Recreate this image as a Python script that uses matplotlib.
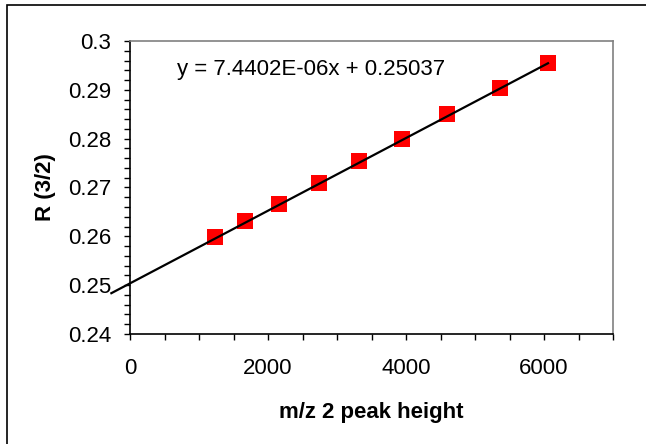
import numpy as np
import matplotlib
matplotlib.use("Agg")
import matplotlib.pyplot as plt
from matplotlib.patches import Rectangle
from matplotlib.ticker import MultipleLocator

plt.rcParams['font.family'] = ['Liberation Sans', 'DejaVu Sans']

# m/z 2 peak height vs ratio R(3/2)
peak_height = [1232, 1667, 2159, 2739, 3319, 3942, 4594, 5362, 6058]
ratio = [0.2599, 0.2631, 0.2666, 0.2709, 0.2754, 0.2799, 0.2851, 0.2904, 0.2955]

# linear trendline as reported on the chart
slope = 7.4402e-06
intercept = 0.25037
trend_start = -270  # trendline forecast backward past the axis

fig = plt.figure(figsize=(6.46, 4.44), dpi=100)

# outer chart frame (right/bottom fall outside the image)
fig.patches.append(Rectangle((7 / 646, -0.1), 1.2, (444 - 5) / 444 + 0.1,
                             transform=fig.transFigure, fill=False,
                             edgecolor='black', linewidth=1.2))

ax = fig.add_axes([130 / 646, (444 - 334) / 444, 483 / 646, 293 / 444])

ax.scatter(peak_height, ratio, marker='s', s=11.5 ** 2, color='#ff0000',
           linewidths=0, zorder=2)

xfit = np.array([trend_start, max(peak_height)])
ax.plot(xfit, slope * xfit + intercept, color='black', linewidth=1.6,
        clip_on=False, zorder=3)

ax.text(681, 0.2941, 'y = 7.4402E-06x + 0.25037', fontsize=16,
        ha='left', va='center')

ax.set_xlim(0, 7000)
ax.set_ylim(0.24, 0.30)
ax.xaxis.set_major_locator(MultipleLocator(2000))
ax.xaxis.set_minor_locator(MultipleLocator(500))
ax.yaxis.set_major_locator(MultipleLocator(0.01))
ax.yaxis.set_minor_locator(MultipleLocator(0.002))
ax.set_xticks([0, 2000, 4000, 6000])
ax.set_xticklabels(['0', '2000', '4000', '6000'])
ax.set_yticks([0.24, 0.25, 0.26, 0.27, 0.28, 0.29, 0.30])
ax.set_yticklabels(['0.24', '0.25', '0.26', '0.27', '0.28', '0.29', '0.3'])

ax.tick_params(which='both', direction='out', length=4.5, width=1, labelsize=16)
ax.tick_params(axis='x', which='both', pad=13)
ax.tick_params(axis='y', which='both', pad=9)

for s in ['left', 'bottom']:
    ax.spines[s].set_color('black')
    ax.spines[s].set_linewidth(1.2)
for s in ['top', 'right']:
    ax.spines[s].set_color('#808080')
    ax.spines[s].set_linewidth(1.2)

ax.set_xlabel('m/z 2 peak height', fontsize=16, fontweight='bold', labelpad=16)
ax.set_ylabel('R (3/2)', fontsize=16, fontweight='bold', labelpad=9)

fig.savefig('out.png', dpi=100)
